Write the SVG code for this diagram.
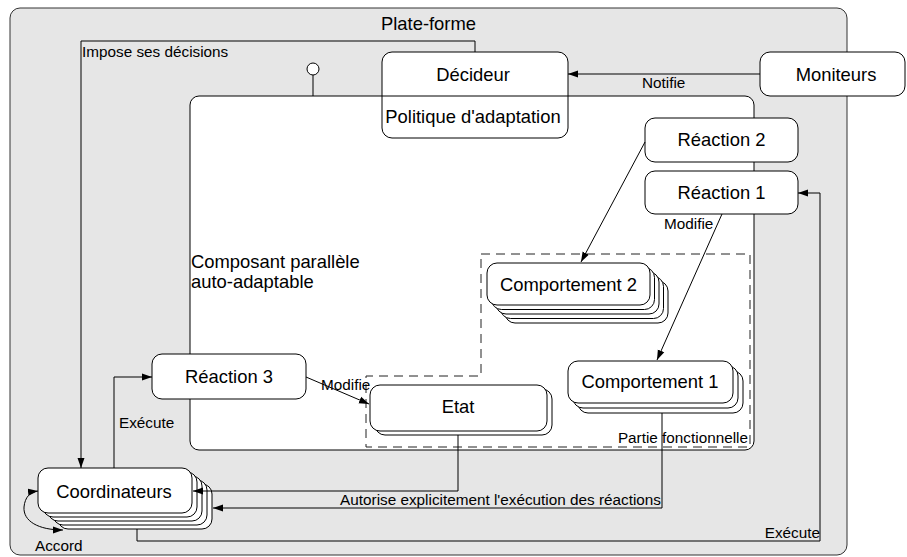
<svg xmlns="http://www.w3.org/2000/svg" width="907" height="557" viewBox="0 0 907 557">
<defs>
<style>
text{font-family:"Liberation Sans",Arial,sans-serif;fill:#000}
.nl{font-size:18.4px;text-anchor:middle}
.el{font-size:15.3px}
.box{fill:#fff;stroke:#000;stroke-width:1}
.ln{fill:none;stroke:#000;stroke-width:1}
.arr{fill:none;stroke:#000;stroke-width:1;marker-end:url(#ah)}
</style>
<marker id="ah" markerUnits="userSpaceOnUse" markerWidth="10" markerHeight="8" refX="10" refY="4" orient="auto-start-reverse" viewBox="0 0 10 8">
<path d="M0,0.5 L10,4 L0,7.5 z" fill="#000"/>
</marker>
</defs>

<g id="plateforme">
<rect x="10" y="8" width="837" height="547" rx="10" fill="#e6e6e6" stroke="#333" stroke-width="1"/>
<text class="nl" x="428.5" y="30">Plate-forme</text>
</g>

<g id="composant">
<rect x="190" y="96" width="564" height="354" rx="9" fill="#fff" stroke="#000" stroke-width="1"/>
<text style="font-size:18.4px" x="191" y="268">Composant parallèle</text>
<text style="font-size:18.4px" x="191" y="288">auto-adaptable</text>
<circle cx="313" cy="69" r="6" fill="#fff" stroke="#000"/>
<line class="ln" x1="313" y1="75" x2="313" y2="96"/>
</g>

<g id="partie-fonctionnelle">
<path d="M481,254 L750,254 L750,447 L366,447 L366,376 L481,376 Z" fill="none" stroke="#222" stroke-width="1" stroke-dasharray="9,6"/>
<text class="el" x="748" y="443" text-anchor="end">Partie fonctionnelle</text>
</g>

<g id="decideur">
<rect class="box" x="382" y="52" width="186" height="86" rx="10"/>
<line class="ln" x1="382" y1="96" x2="568" y2="96"/>
<text class="nl" x="473" y="81">Décideur</text>
<text class="nl" x="473" y="123">Politique d'adaptation</text>
</g>

<g id="moniteurs">
<rect class="box" x="760" y="52" width="145" height="44" rx="10"/>
<text class="nl" x="836" y="81">Moniteurs</text>
</g>

<g id="reaction2">
<rect class="box" x="645" y="118" width="153" height="44" rx="10"/>
<text class="nl" x="721.5" y="146">Réaction 2</text>
</g>

<g id="reaction1">
<rect class="box" x="645" y="171" width="153" height="43" rx="10"/>
<text class="nl" x="721.5" y="199">Réaction 1</text>
</g>

<g id="comportement2">
<rect class="box" x="505" y="281" width="163" height="42" rx="10"/>
<rect class="box" x="500.5" y="276.5" width="163" height="42" rx="10"/>
<rect class="box" x="496" y="272" width="163" height="42" rx="10"/>
<rect class="box" x="491.5" y="267.5" width="163" height="42" rx="10"/>
<rect class="box" x="487" y="263" width="163" height="42" rx="10"/>
<text class="nl" x="568.5" y="291">Comportement 2</text>
</g>

<g id="comportement1">
<rect class="box" x="578" y="371" width="165" height="42" rx="10"/>
<rect class="box" x="573" y="366" width="165" height="42" rx="10"/>
<rect class="box" x="568" y="361" width="165" height="42" rx="10"/>
<text class="nl" x="650" y="388">Comportement 1</text>
</g>

<g id="etat">
<rect class="box" x="375" y="389" width="177" height="46" rx="10"/>
<rect class="box" x="370" y="385" width="177" height="46" rx="10"/>
<text class="nl" x="458" y="413">Etat</text>
</g>

<g id="reaction3">
<rect class="box" x="152" y="354" width="154" height="45" rx="10"/>
<text class="nl" x="229" y="383">Réaction 3</text>
</g>

<g id="coordinateurs">
<rect class="box" x="58" y="484" width="154" height="45" rx="10"/>
<rect class="box" x="53" y="480" width="154" height="45" rx="10"/>
<rect class="box" x="48" y="476" width="154" height="45" rx="10"/>
<rect class="box" x="43" y="472" width="154" height="45" rx="10"/>
<rect class="box" x="38" y="468" width="154" height="45" rx="10"/>
<text class="nl" x="114" y="498">Coordinateurs</text>
</g>

<g id="connecteurs">
<path class="arr" d="M760,74 L568,74"/>
<text class="el" x="642" y="88">Notifie</text>

<path class="arr" d="M475,52 L475,41 L81,41 L81,468"/>
<text class="el" x="82" y="57">Impose ses décisions</text>

<path class="arr" d="M645,142 L581,262"/>

<path class="arr" d="M722,214 L657,360"/>
<text class="el" x="664" y="229">Modifie</text>

<path class="arr" d="M306,377 L369,404"/>
<text class="el" x="321" y="390">Modifie</text>

<path class="arr" d="M114,468 L114,377 L152,377"/>
<text class="el" x="119" y="428">Exécute</text>

<path class="arr" d="M458,435 L458,491 L193,491"/>

<path class="arr" d="M662,413 L662,508 L213,508"/>
<text class="el" x="661" y="505" text-anchor="end">Autorise explicitement l'exécution des réactions</text>

<path class="arr" d="M137,529 L137,541 L820,541 L820,193 L798,193"/>
<text class="el" x="820" y="538" text-anchor="end">Exécute</text>

<path class="arr" style="marker-start:url(#ah)" d="M63,530 C38,530 23,521 24,507 C25,497 30,492 38,491"/>
<text class="el" x="35" y="551">Accord</text>
</g>
</svg>
